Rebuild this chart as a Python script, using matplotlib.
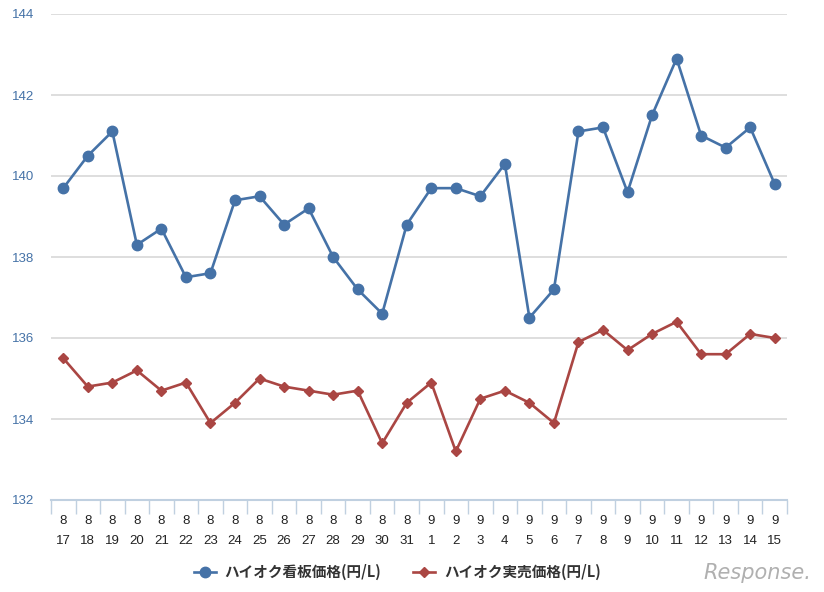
import matplotlib
matplotlib.use("Agg")
import matplotlib.pyplot as plt
from matplotlib.lines import Line2D

months = ["8"] * 15 + ["9"] * 15
days = [str(d) for d in range(17, 32)] + [str(d) for d in range(1, 16)]
x_labels = [f"{m}\n{d}" for m, d in zip(months, days)]

signboard = [139.7, 140.5, 141.1, 138.3, 138.7, 137.5, 137.6, 139.4, 139.5, 138.8,
             139.2, 138.0, 137.2, 136.6, 138.8, 139.7, 139.7, 139.5, 140.3, 136.5,
             137.2, 141.1, 141.2, 139.6, 141.5, 142.9, 141.0, 140.7, 141.2, 139.8]
actual = [135.5, 134.8, 134.9, 135.2, 134.7, 134.9, 133.9, 134.4, 135.0, 134.8,
          134.7, 134.6, 134.7, 133.4, 134.4, 134.9, 133.2, 134.5, 134.7, 134.4,
          133.9, 135.9, 136.2, 135.7, 136.1, 136.4, 135.6, 135.6, 136.1, 136.0]
series_names = ["ハイオク看板価格(円/L)", "ハイオク実売価格(円/L)"]
y_ticks = [132, 134, 136, 138, 140, 142, 144]

plt.rcParams['font.family'] = ['Noto Sans CJK JP', 'DejaVu Sans']

blue = "#4572A7"
red = "#AA4643"

fig = plt.figure(figsize=(8.24, 5.92), dpi=100)
ax = fig.add_axes([51/824, 1 - 500/592, (787 - 51)/824, (500 - 14)/592])

x = list(range(len(x_labels)))
ax.plot(x, signboard, color=blue, lw=1.9, marker='o', markersize=7.5,
        label=series_names[0], zorder=3)
ax.plot(x, actual, color=red, lw=1.9, marker='D', markersize=5.5,
        label=series_names[1], zorder=3)

ax.set_xlim(-0.5, len(x) - 0.5)
ax.set_ylim(132, 144)
ax.set_yticks(y_ticks)
ax.set_yticklabels([str(t) for t in y_ticks], color=blue, fontsize=9.5,
                   family=['Liberation Sans', 'DejaVu Sans'])
ax.tick_params(axis='y', length=0, pad=12)
for t in y_ticks[1:]:
    ax.axhline(t, color="#d8d8d8", lw=1.2, zorder=1)

ax.set_xticks([i - 0.5 for i in range(len(x) + 1)])
ax.set_xticklabels([])
ax.set_xticks(x, minor=True)
ax.set_xticklabels(x_labels, minor=True, fontsize=9.5, color="#222222",
                   linespacing=1.9, family=['Liberation Sans', 'DejaVu Sans'])
ax.tick_params(axis='x', which='major', length=10, width=1, color="#c0d0e0", direction='out')
ax.tick_params(axis='x', which='minor', length=0, pad=11)

for s in ['top', 'right', 'left']:
    ax.spines[s].set_visible(False)
ax.spines['bottom'].set_color("#c0d0e0")
ax.spines['bottom'].set_linewidth(1.5)

h1 = Line2D([], [], color=blue, lw=1.9, marker='o', markersize=7.5)
h2 = Line2D([], [], color=red, lw=1.9, marker='D', markersize=5.5)
fig.legend([h1, h2], series_names, loc='center', bbox_to_anchor=(0.482, 1 - 572/592),
           ncol=2, frameon=False, handlelength=1.5, handletextpad=0.6, columnspacing=2.2,
           prop={'family': ['Noto Sans CJK JP', 'DejaVu Sans'], 'weight': 'bold', 'size': 10.5},
           labelcolor="#333333")

fig.text(0.985, 1 - 573/592, "Response.", ha='right', va='center', color="#b0b0b0",
         fontsize=15, style='italic', family=['DejaVu Sans'])

fig.savefig("out.png", dpi=100)
